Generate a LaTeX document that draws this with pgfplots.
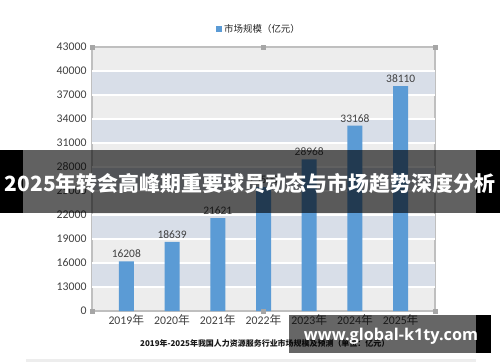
\documentclass[border=0pt]{standalone}
\usepackage{fontspec}
\setmainfont{Carlito}
\newfontfamily\cjk{Noto Sans CJK SC}
\newfontfamily\wm{Open Sans}
\usepackage{pgfplots}
\pgfplotsset{compat=1.18}
\definecolor{barblue}{HTML}{5B9BD5}
\definecolor{bandgrey}{HTML}{EDEDED}
\definecolor{bandblue}{HTML}{D8DEE8}
\definecolor{txt}{HTML}{404040}
\definecolor{frame}{HTML}{BFBFBF}
\definecolor{handle}{HTML}{A6A6A6}
\begin{document}
\begin{tikzpicture}[x=1bp,y=1bp]
\path[use as bounding box] (0,0) rectangle (500,362);
\begin{axis}[
  at={(92bp,51bp)}, anchor=south west,
  width=343bp, height=264bp, scale only axis,
  xmin=-0.75, xmax=6.75, ymin=10000, ymax=43000,
  enlargelimits=false, scaled y ticks=false,
  xtick={0,1,2,3,4,5,6},
  xticklabels={2019{\cjk 年},2020{\cjk 年},2021{\cjk 年},2022{\cjk 年},2023{\cjk 年},2024{\cjk 年},2025{\cjk 年}},
  ytick={10000,13000,16000,19000,22000,25000,28000,31000,34000,37000,40000,43000},
  yticklabels={0,13000,16000,19000,22000,25000,28000,31000,34000,37000,40000,43000},
  major tick length=0pt,
  tick label style={font=\fontsize{11.8}{12}\selectfont, text=txt},
  yticklabel style={xshift=-2bp},
  axis line style={frame, line width=1.2bp},
  axis background/.style={fill=bandgrey},
  ybar, bar width=15bp,
  nodes near coords,
  nodes near coords style={font=\fontsize{11.5}{12}\selectfont, text=txt},
  /pgf/number format/.cd, 1000 sep={}, assume math mode=true, /pgfplots/.cd,
  legend style={at={(0.487,1.068)}, anchor=center, draw=none, fill=none,
    font=\cjk\fontsize{9.5}{10}\selectfont, text=black!85},
  legend image code/.code={\fill[barblue] (0bp,-3bp) rectangle (6bp,3bp);},
]
\fill[bandblue] (axis cs:-0.75,13000) rectangle (axis cs:6.75,16000);
\fill[bandblue] (axis cs:-0.75,19000) rectangle (axis cs:6.75,22000);
\fill[bandblue] (axis cs:-0.75,25000) rectangle (axis cs:6.75,28000);
\fill[bandblue] (axis cs:-0.75,31000) rectangle (axis cs:6.75,34000);
\fill[bandblue] (axis cs:-0.75,37000) rectangle (axis cs:6.75,40000);
\pgfplotsinvokeforeach{13000,16000,19000,22000,25000,28000,31000,34000,37000,40000}{
  \draw[white, line width=1.8bp] (axis cs:-0.75,#1) -- (axis cs:6.75,#1);
}
\addplot[fill=barblue, draw=none] coordinates {
  (0,16208) (1,18639) (2,21621) (3,25500) (4,28968) (5,33168) (6,38110)
};
\addlegendentry{市场规模（亿元）}
\end{axis}
% selection handles
\foreach \hx/\hy in {92/51,435/51,92/315,435/315,263.5/51,263.5/315}{
  \fill[handle] (\hx-2.5,\hy-2.5) rectangle (\hx+2.5,\hy+2.5);
}
% caption
\node[anchor=west, inner sep=0pt, text=black!90, font=\cjk\bfseries\fontsize{8}{8}\selectfont] at (140,19)
  {2019年-2025年我国人力资源服务行业市场规模及预测（单位：亿元）};
% bottom strip
\fill[black!7] (26,0) rectangle (476,3);
% banner
\fill[black, opacity=0.62] (23,149) rectangle (476,212);
\fill[black] (0,149) rectangle (23,212);
\fill[black] (476,149) rectangle (500,212);
\node[text=white, inner sep=0pt, font=\cjk\bfseries\fontsize{21}{21}\selectfont] at (250,178)
  {2025年转会高峰期重要球员动态与市场趋势深度分析};
% watermark
\fill[black, opacity=0.6] (289,9) rectangle (476,47);
\fill[black] (476,9) rectangle (491,47);
\node[text=white, inner sep=0pt, font=\wm\bfseries\fontsize{16.3}{16}\selectfont] at (391,26)
  {www.global-k1ty.com};
\end{tikzpicture}
\end{document}
